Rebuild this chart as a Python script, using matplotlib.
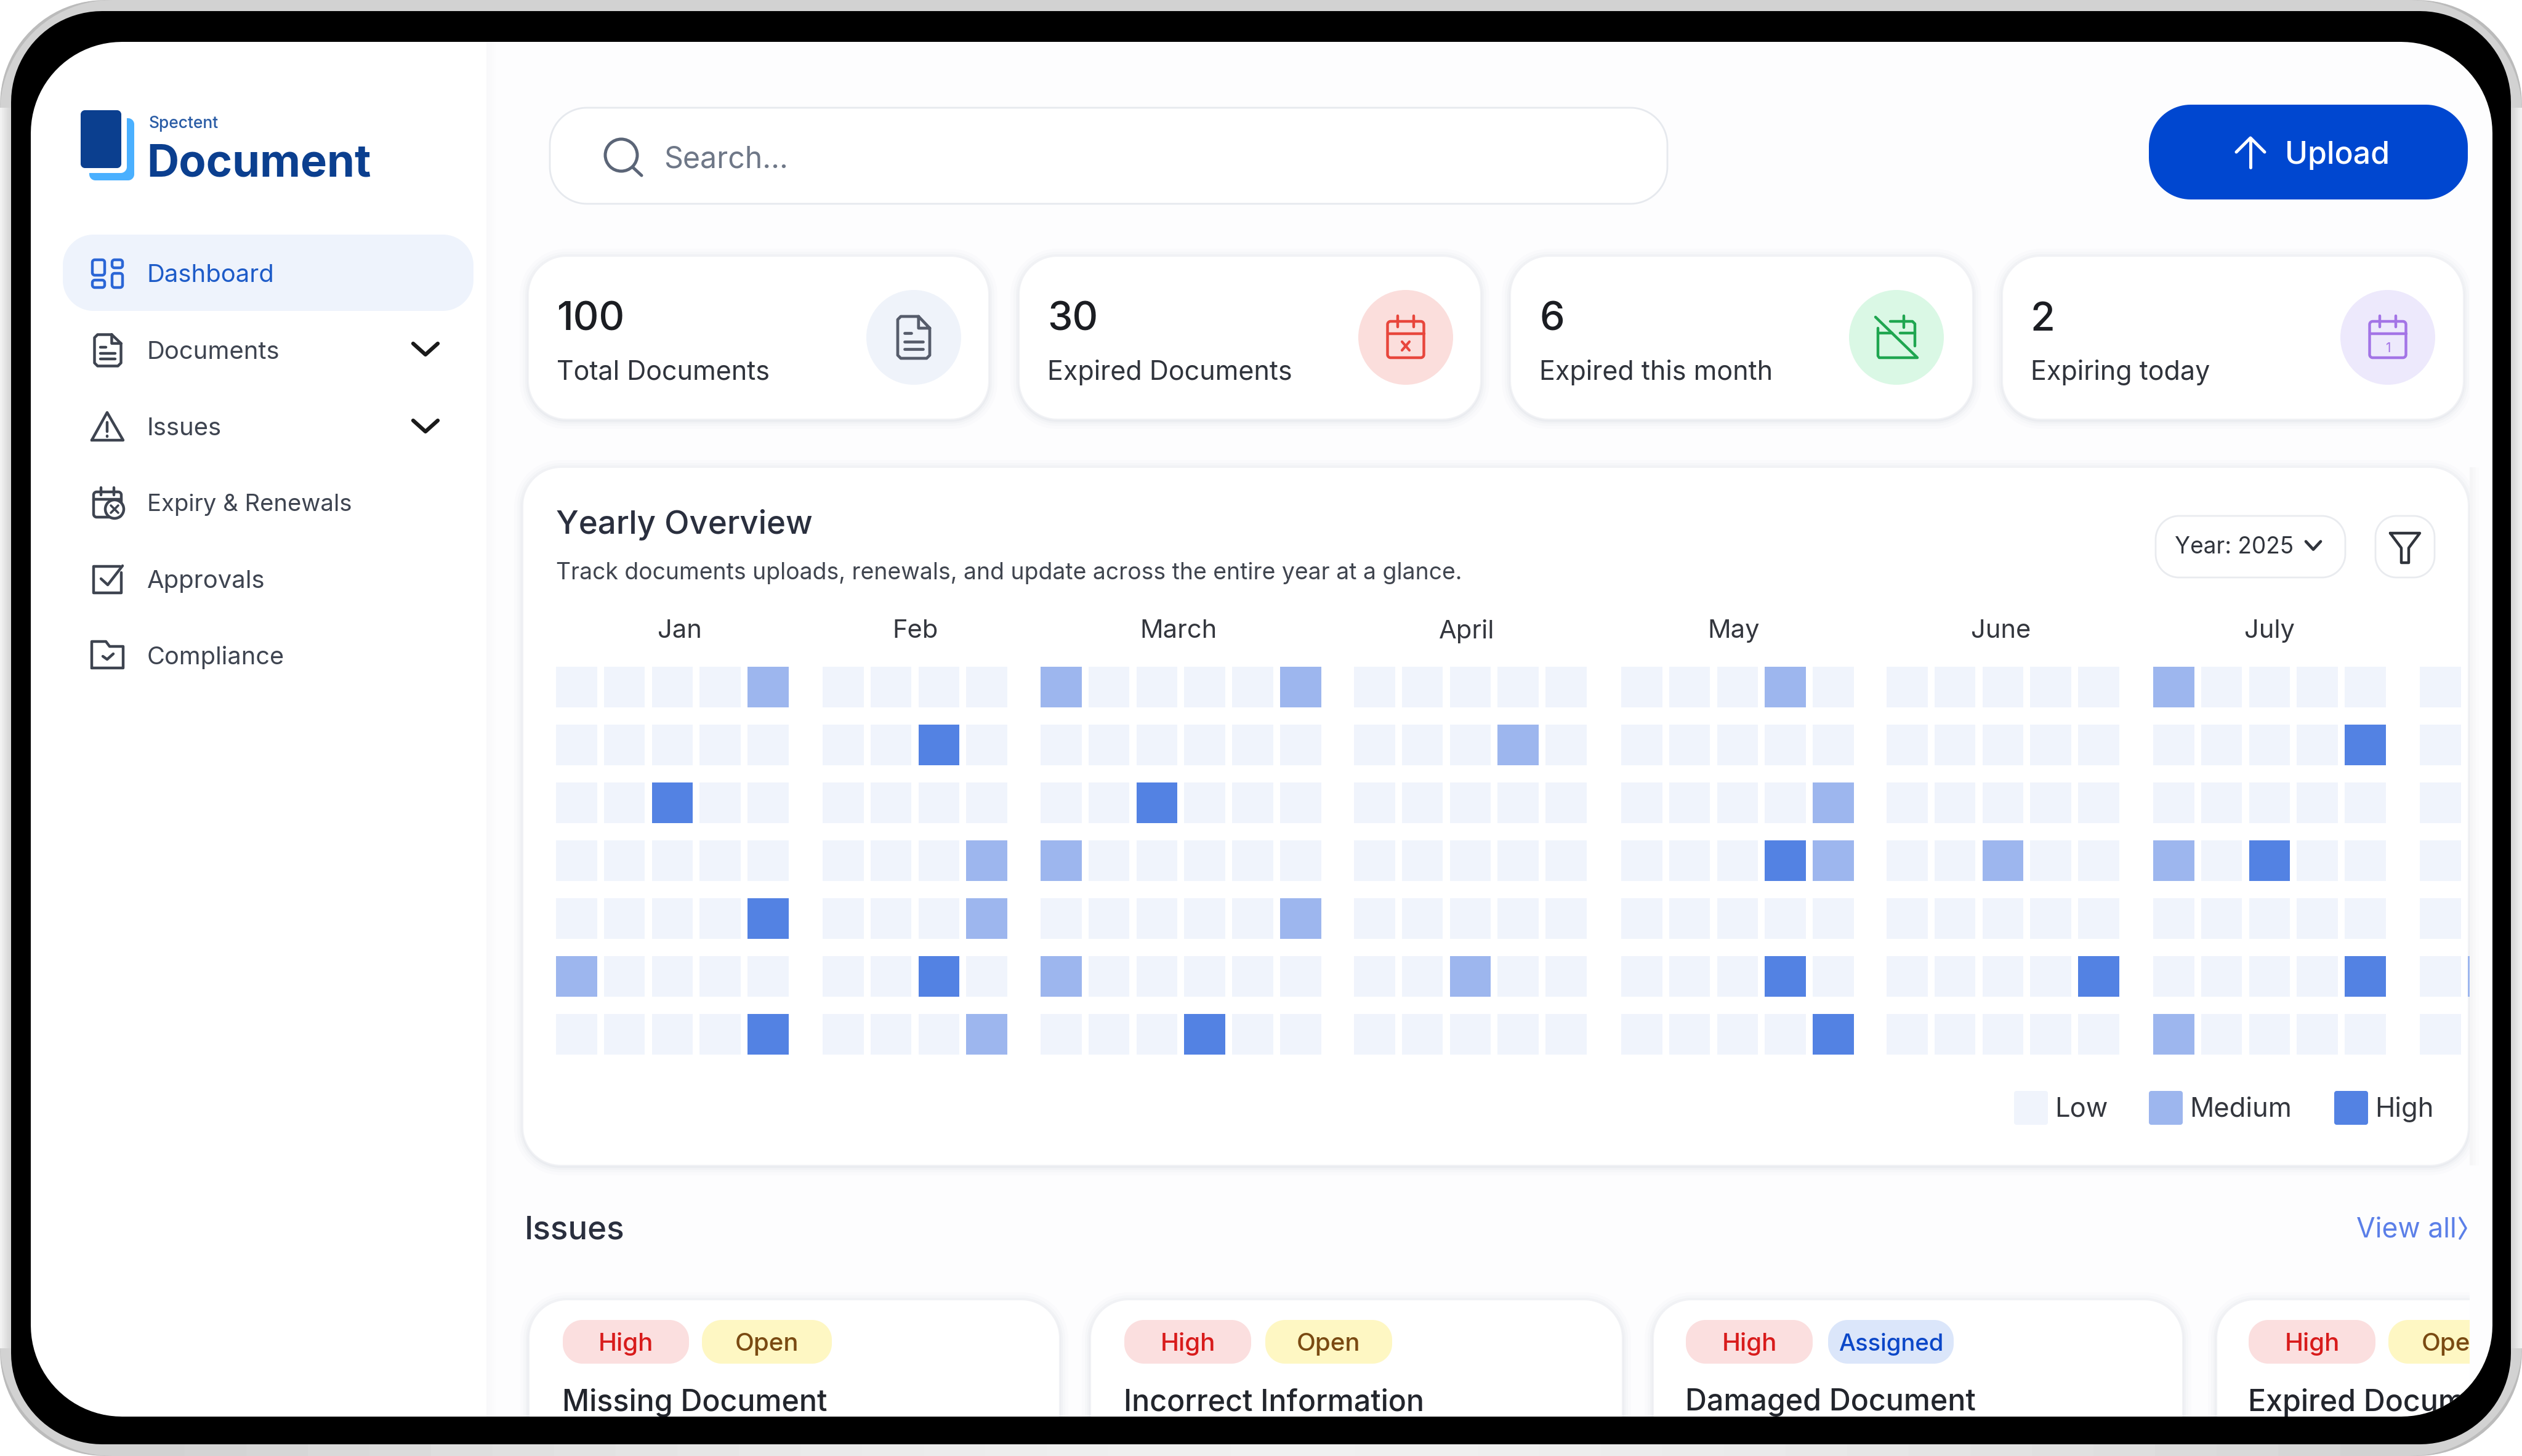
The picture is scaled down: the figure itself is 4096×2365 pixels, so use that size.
import numpy as np
import matplotlib
matplotlib.use('Agg')
import matplotlib.pyplot as plt
from matplotlib.patches import PathPatch, Rectangle, Circle
from matplotlib.path import Path

plt.rcParams['font.family'] = ['Inter', 'DejaVu Sans']

# heatmap values: 0 low, 1 medium, 2 high (rows are weekdays, columns weeks)
months = ['Jan', 'Feb', 'March', 'April', 'May', 'June', 'July']
jan = [[0,0,0,0,1],[0,0,0,0,0],[0,0,2,0,0],[0,0,0,0,0],[0,0,0,0,2],[1,0,0,0,0],[0,0,0,0,2]]
feb = [[0,0,0,0],[0,0,2,0],[0,0,0,0],[0,0,0,1],[0,0,0,1],[0,0,2,0],[0,0,0,1]]
mar = [[1,0,0,0,0,1],[0,0,0,0,0,0],[0,0,2,0,0,0],[1,0,0,0,0,0],[0,0,0,0,0,1],[1,0,0,0,0,0],[0,0,0,2,0,0]]
apr = [[0,0,0,0,0],[0,0,0,1,0],[0,0,0,0,0],[0,0,0,0,0],[0,0,0,0,0],[0,0,1,0,0],[0,0,0,0,0]]
may = [[0,0,0,1,0],[0,0,0,0,0],[0,0,0,0,1],[0,0,0,2,1],[0,0,0,0,0],[0,0,0,2,0],[0,0,0,0,2]]
jun = [[0,0,0,0,0],[0,0,0,0,0],[0,0,0,0,0],[0,0,1,0,0],[0,0,0,0,0],[0,0,0,0,2],[0,0,0,0,0]]
jul = [[1,0,0,0,0],[0,0,0,0,2],[0,0,0,0,0],[1,0,2,0,0],[0,0,0,0,0],[0,0,0,0,2],[1,0,0,0,0]]
aug = [[0],[0],[0],[0],[0],[0,1],[0]]  # second column is cut off by the card edge
month_grids = [jan, feb, mar, apr, may, jun, jul, aug]
levels = ['Low', 'Medium', 'High']

menu_items = ['Dashboard', 'Documents', 'Issues', 'Expiry & Renewals', 'Approvals', 'Compliance']
stat_values = ['100', '30', '6', '2']
stat_labels = ['Total Documents', 'Expired Documents', 'Expired this month', 'Expiring today']
issue_titles = ['Missing Document', 'Incorrect Information', 'Damaged Document', 'Expired Document']
issue_status = ['Open', 'Open', 'Assigned', 'Open']

# layout, colours
level_colors = ['#F0F4FC', '#9DB6EE', '#5382E3']
month_x = [903, 1336, 1690, 2199, 2633, 3064, 3497, 3930]
month_label_x = [1104, 1487, 1914, 2382, 2816, 3250, 3686]
cell_w, cell_h, pitch_x, pitch_y = 66.5, 66, 77.8, 94
grid_top = 1083
DARK = '#23262F'
GREY = '#3E4450'

fig = plt.figure(figsize=(40.96, 23.65), dpi=100)
ax = fig.add_axes([0, 0, 1, 1])
ax.set_xlim(0, 4096)
ax.set_ylim(2365, 0)
ax.axis('off')


def rrect_points(x0, y0, x1, y1, r):
    pts = []
    for cx, cy, a0 in [(x1 - r, y0 + r, -90), (x1 - r, y1 - r, 0), (x0 + r, y1 - r, 90), (x0 + r, y0 + r, 180)]:
        a = np.radians(np.linspace(a0, a0 + 90, 24))
        pts.append(np.column_stack([cx + r * np.cos(a), cy + r * np.sin(a)]))
    pts = np.vstack(pts)
    return np.vstack([pts, pts[:1]])


def rrect(x0, y0, x1, y1, r, fc='white', ec='none', lw=0, z=1, alpha=None):
    p = PathPatch(Path(rrect_points(x0, y0, x1, y1, r)), fc=fc, ec=ec, lw=lw, zorder=z, alpha=alpha)
    ax.add_patch(p)
    return p


def ring(outer, inner, color, z):
    a, b = rrect_points(*outer), rrect_points(*inner)[::-1]
    verts = np.vstack([a, b])
    codes = [Path.MOVETO] + [Path.LINETO] * (len(a) - 1) + [Path.MOVETO] + [Path.LINETO] * (len(b) - 1)
    ax.add_patch(PathPatch(Path(verts, codes), fc=color, ec='none', lw=0, zorder=z))


def card(x0, y0, x1, y1, r, z=2):
    # soft drop shadow
    for grow, al in [(14, 0.012), (9, 0.016), (5, 0.022), (2, 0.03)]:
        rrect(x0 - grow, y0 - grow + 2, x1 + grow, y1 + grow + 2, r + grow, fc='#30405A', z=z, alpha=al)
    rrect(x0, y0, x1, y1, r, fc='white', ec='#F1F2F5', lw=1.5, z=z + 0.1)


def txt(x, y, s, size, color=DARK, weight='normal', ha='left', z=5):
    ax.text(x, y - 2, s, fontsize=size, color=color, fontweight=weight, ha=ha, va='center_baseline', zorder=z)


def ln(xs, ys, color=GREY, lw=3.2, z=5):
    ax.plot(xs, ys, color=color, lw=lw, solid_capstyle='round', solid_joinstyle='round', zorder=z)


def chevron(x, y, w, h, color='#1A1A1A', lw=4.5):
    ln([x - w / 2, x, x + w / 2], [y - h / 2, y + h / 2, y - h / 2], color, lw)


def doc_icon(cx, cy, w, h, color, lw):
    x0, x1, y0, y1 = cx - w / 2, cx + w / 2, cy - h / 2, cy + h / 2
    ln([x1 - w * 0.35, x0 + 5, x0, x0, x0 + 5, x1 - 5, x1, x1, x1 - w * 0.35, x1 - w * 0.35, x1],
       [y0, y0, y0 + 5, y1 - 5, y1, y1, y1 - 5, y0 + h * 0.28, y0, y0 + h * 0.28, y0 + h * 0.28], color, lw)
    ln([x0 + w * 0.22, x0 + w * 0.42], [cy - h * 0.1] * 2, color, lw)
    ln([x0 + w * 0.22, x1 - w * 0.22], [cy + h * 0.1] * 2, color, lw)
    ln([x0 + w * 0.22, x1 - w * 0.22], [cy + h * 0.28] * 2, color, lw)


def cal_icon(cx, cy, w, h, color, lw):
    rrect(cx - w / 2, cy - h / 2 + 9, cx + w / 2, cy + h / 2, 5, fc='none', ec=color, lw=lw, z=5)
    ln([cx - w / 2, cx + w / 2], [cy - h * 0.08] * 2, color, lw)
    ln([cx - w * 0.22] * 2, [cy - h / 2, cy - h / 2 + 18], color, lw)
    ln([cx + w * 0.22] * 2, [cy - h / 2, cy - h / 2 + 18], color, lw)


# page background and sidebar
rrect(0, 0, 4096, 2365, 170, fc='#FDFDFE', z=0)
for i, al in enumerate([0.02, 0.016, 0.012, 0.008, 0.004]):
    ax.add_patch(Rectangle((790 + i * 3, 60), 3, 2250, fc='#203050', ec='none', alpha=al, zorder=0.5))
ax.add_patch(Rectangle((40, 60), 750, 2250, fc='white', ec='none', zorder=0.6))

# logo
rrect(145, 192, 218, 293, 10, fc='#4AB0FF', z=2)
rrect(120, 170, 206, 281, 10, fc='white', z=2.5)
rrect(131, 179, 197, 273, 7, fc='#0B3F8F', z=3)
txt(242, 200, 'Spectent', 19, '#2A5CA5', 'medium')
txt(238, 262, 'Document', 52, '#0B3F8F', 'bold')

# sidebar menu
rrect(102, 381, 769, 505, 50, fc='#EEF3FC', z=1)
menu_y = [445, 570, 694, 818, 942, 1066]
menu_size = [28.8, 28.8, 28.8, 27.5, 28.8, 28.6]
for i, (name, y, sz) in enumerate(zip(menu_items, menu_y, menu_size)):
    txt(239, y, name, sz, '#1D5BC8' if i == 0 else GREY)
BLUE = '#2B66D6'
rrect(150, 422, 170, 447, 4, fc='none', ec=BLUE, lw=3.2, z=5)
rrect(150, 455, 170, 467, 4, fc='none', ec=BLUE, lw=3.2, z=5)
rrect(182, 422, 199, 435, 4, fc='none', ec=BLUE, lw=3.2, z=5)
rrect(182, 444, 199, 467, 4, fc='none', ec=BLUE, lw=3.2, z=5)
doc_icon(175, 569, 43, 51, GREY, 3.2)
chevron(691, 567, 40, 18)
chevron(691, 692, 40, 18)
ln([149, 174, 200, 149], [715, 670, 715, 715], GREY, 3.2)
ln([174, 174], [686, 701], GREY, 3.2)
ln([174, 174], [708, 708.5], GREY, 3.2)
rrect(152, 799, 197, 840, 5, fc='none', ec=GREY, lw=3.2, z=5)
ln([152, 197], [811, 811], GREY, 3.2)
ln([164, 164], [792, 804], GREY, 3.2)
ln([185, 185], [792, 804], GREY, 3.2)
ax.add_patch(Circle((186, 827), 15, fc='white', ec=GREY, lw=3.2, zorder=5.5))
ln([180, 192], [821, 833], GREY, 2.6, z=6)
ln([180, 192], [833, 821], GREY, 2.6, z=6)
ln([195, 152, 152, 197, 197], [920, 920, 963, 963, 930], GREY, 3.2)
ln([164, 175, 199], [940, 950, 919], GREY, 3.2)
ln([149, 149, 172, 178, 200, 200, 149], [1085, 1042, 1042, 1050, 1050, 1085, 1085], GREY, 3.2)
ln([167, 174, 184], [1066, 1071, 1062], GREY, 3.2)

# search box and upload button
rrect(893, 175, 2708, 331, 60, fc='white', ec='#E6E9EE', lw=2, z=2)
ax.add_patch(Circle((1009, 252), 26, fc='none', ec='#5B6577', lw=3.6, zorder=5))
ln([1028, 1042], [272, 285], '#5B6577', 3.6)
txt(1078, 256, 'Search...', 34.7, '#6E7787')
rrect(3490, 170, 4008, 324, 68, fc='#0047D0', z=2)
ln([3655, 3655], [225, 272], 'white', 3.6)
ln([3632, 3655, 3678], [247, 224, 247], 'white', 3.6)
txt(3711, 249, 'Upload', 36, 'white', 'medium')

# stat cards
card_x = [(858, 1606), (1655, 2405), (2453, 3204), (3252, 4001)]
text_x = [904, 1701, 2500, 3298]
icon_x = [1484, 2283, 3080, 3878]
icon_bg = ['#EFF3FA', '#FBDEDC', '#DAF8E5', '#EDE9FC']
for (x0, x1), tx, ix, bg, v, lab in zip(card_x, text_x, icon_x, icon_bg, stat_values, stat_labels):
    card(x0, 416, x1, 681, 62)
    txt(tx, 515, v, 46.5, '#1B1D22', 'medium')
    txt(tx, 602, lab, 31, '#2F333B')
    ax.add_patch(Circle((ix, 548), 77, fc=bg, ec='none', zorder=3))
doc_icon(1484, 548, 52, 68, '#565C6B', 3.4)
cal_icon(2283, 547, 59, 68, '#E8463C', 3.2)
ln([2277, 2289], [555, 569], '#E8463C', 3)
ln([2277, 2289], [569, 555], '#E8463C', 3)
GREEN = '#1FA650'
ln([3046, 3114, 3052, 3050, 3050], [515, 581, 581, 578, 533], GREEN, 3.2)
ln([3070, 3106, 3110, 3110], [522, 522, 526, 562], GREEN, 3.2)
ln([3050, 3073], [541, 541], GREEN, 3.2)
ln([3086, 3110], [541, 541], GREEN, 3.2)
ln([3092, 3092], [513, 532], GREEN, 3.2)
cal_icon(3878, 547, 59, 68, '#A374E6', 3.2)
txt(3878, 566, '1', 15, '#A374E6', ha='center')

# yearly overview card
card(849, 759, 4009, 1893, 62)
txt(903, 849, 'Yearly Overview', 38, '#2A2F3E', 'medium')
txt(903, 929, 'Track documents uploads, renewals, and update across the entire year at a glance.', 26.9, '#40454F')
rrect(3501, 838, 3809, 938, 38, fc='white', ec='#E9EBEF', lw=2, z=4)
txt(3532, 887, 'Year: 2025', 26.6, '#30343C')
chevron(3757, 886, 24, 13, '#30343C', 3.4)
rrect(3858, 838, 3954, 938, 34, fc='white', ec='#E9EBEF', lw=2, z=4)
ln([3882, 3930, 3912, 3912, 3900, 3900, 3882], [866, 866, 890, 914, 914, 890, 866], '#30343C', 3.2)

for name, x in zip(months, month_label_x):
    txt(x, 1023, name, 30, '#33363D', ha='center')

for grid, x0 in zip(month_grids, month_x):
    for r, row in enumerate(grid):
        for c, val in enumerate(row):
            ax.add_patch(Rectangle((x0 + c * pitch_x, grid_top + r * pitch_y), cell_w, cell_h,
                                   fc=level_colors[val], ec='none', zorder=4))

# legend
legend_x = [3271, 3490, 3791]
for lx, name, col in zip(legend_x, levels, level_colors):
    rrect(lx, 1772, lx + 55, 1827, 4, fc=col, z=4)
    txt(lx + 66, 1799, name, 31.3, '#33363D')

# issues section
txt(852, 1995, 'Issues', 38, '#2A2F3E', 'medium')
txt(3827, 1995, 'View all', 32, '#5B7FE8')
ln([3995, 4005, 3995], [1978, 1995, 2012], '#5B7FE8', 2.6)

issue_x = [(859, 1721), (1771, 2635), (2685, 3545), (3600, 4400)]
high_x = [(914, 1119), (1826, 2032), (2738, 2944), (3652, 3858)]
status_x = [(1140, 1351), (2055, 2261), (2969, 3173), (3879, 4090)]
status_style = {'Open': ('#FEF7C3', '#7A4A12'), 'Assigned': ('#DBE6FA', '#0B47C8')}
for (x0, x1), (h0, h1), (s0, s1), st, title in zip(issue_x, high_x, status_x, issue_status, issue_titles):
    card(x0, 2111, x1, 2700, 62)
    rrect(h0, 2144, h1, 2215, 32, fc='#FBDFDF', z=4)
    txt((h0 + h1) / 2, 2181, 'High', 29, '#D81B1B', 'medium', ha='center')
    bg, fg = status_style[st]
    rrect(s0, 2144, s1, 2215, 32, fc=bg, z=4)
    txt((s0 + s1) / 2, 2181, st, 27.5 if st == 'Assigned' else 29, fg, 'medium', ha='center')
    txt(h0 - 1, 2275, title, 34.8, '#22252C', 'medium')

# content is cut off at the right of the scroll area
ax.add_patch(Rectangle((4011, 60), 45, 2250, fc='#FDFDFE', ec='none', zorder=8))
for i, col in enumerate(['#F5F5F6', '#F8F8F9', '#FBFBFC']):
    ax.add_patch(Rectangle((4011 + i * 5, 759), 5, 1134, fc=col, ec='none', zorder=8.1))

# device frame on top: grey shell with darker corners, lighter towards the edges
shell = (0, 0, 4096, 2365)
screen = (50, 68, 4048, 2301, 148)
ring(shell + (170,), screen, '#D2D2D2', 9)
ring(shell + (168,), shell + (182,), '#BBBBBB', 9.2)
for i, col in enumerate(['#F2F2F2', '#ECECEC', '#E6E6E6', '#E0E0E0', '#DADADA', '#D6D6D6']):
    ax.add_patch(Rectangle((i * 3, 175), 3, 2015, fc=col, ec='none', zorder=9.4))
    ax.add_patch(Rectangle((4093 - i * 3, 175), 3, 2015, fc=col, ec='none', zorder=9.4))
band_x = np.linspace(300, 3800, 36)
for x0, x1 in zip(band_x[:-1], band_x[1:]):
    shade = 0.83 + 0.11 * np.sin(np.pi * (x0 - 300) / 3500)
    ax.add_patch(Rectangle((x0, 2346), x1 - x0 + 1, 19, fc=str(shade), ec='none', zorder=9.4))
ring(shell + (170,), (-10, -10, 4106, 2375, 1), 'white', 10)
ring((18, 18, 4078, 2346, 148), screen, 'black', 11)
fig.savefig('out.png', dpi=100)
